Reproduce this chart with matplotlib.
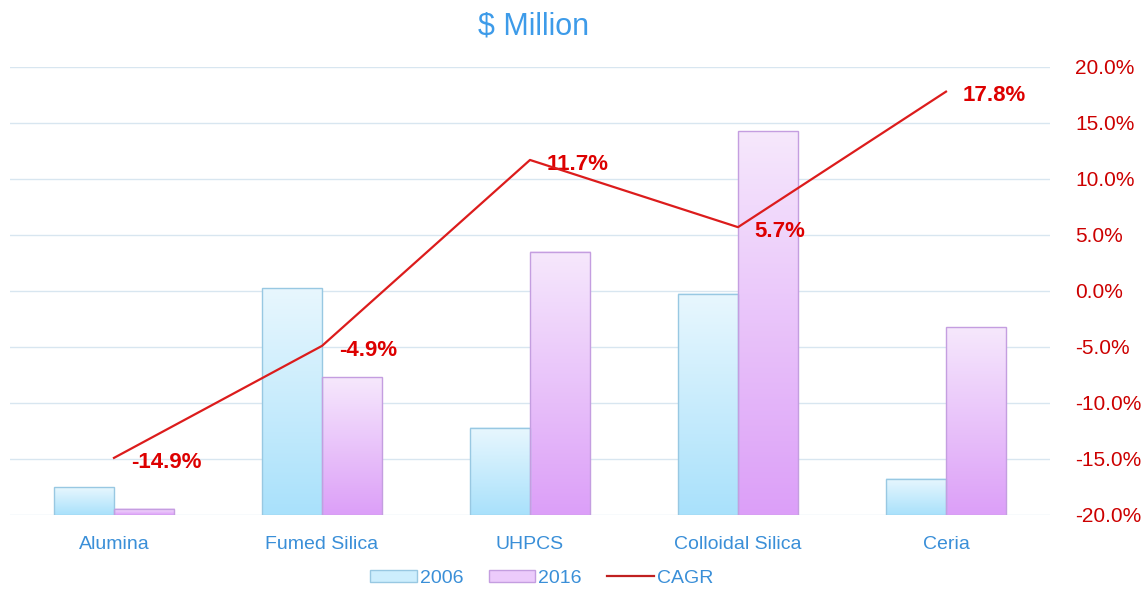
import numpy as np
import matplotlib.pyplot as plt
from matplotlib.colors import LinearSegmentedColormap
from matplotlib.patches import Patch
from matplotlib.lines import Line2D
from matplotlib.ticker import FuncFormatter

plt.rcParams['font.family'] = ['Liberation Sans', 'DejaVu Sans']

categories = ['Alumina', 'Fumed Silica', 'UHPCS', 'Colloidal Silica', 'Ceria']
sales_2006 = [50, 405, 156, 395, 65]
sales_2016 = [11, 246, 470, 685, 335]
cagr = [-14.9, -4.9, 11.7, 5.7, 17.8]
cagr_ticks = [-20, -15, -10, -5, 0, 5, 10, 15, 20]

fig = plt.figure(figsize=(11.43, 5.9), dpi=100)
ax = fig.add_axes([10 / 1143, 75 / 590, 1040 / 1143, 448 / 590])

# gradient colour maps (top light -> bottom darker)
cm06 = LinearSegmentedColormap.from_list('c06', ['#a9e1fb', '#e8f7fe'])
cm16 = LinearSegmentedColormap.from_list('c16', ['#dc9ff8', '#f6e8fc'])
grad = np.linspace(0, 1, 256).reshape(-1, 1)

x = np.arange(len(categories))
w = 0.29
for xs, vals, cm, ec in [(x - w / 2, sales_2006, cm06, '#98c8e2'),
                         (x + w / 2, sales_2016, cm16, '#c49ee0')]:
    bars = ax.bar(xs, vals, width=w, facecolor='none', edgecolor=ec, linewidth=1, zorder=3)
    for b in bars:
        x0, y0 = b.get_x(), b.get_y()
        ax.imshow(grad, extent=[x0, x0 + b.get_width(), y0, y0 + b.get_height()],
                  origin='lower', aspect='auto', cmap=cm, zorder=2)

ax.set_xlim(-0.5, len(categories) - 0.5)
ax.set_ylim(0, 800)
ax.set_yticks(np.arange(0, 801, 100))
ax.yaxis.grid(True, color='#d8e6f0', linewidth=1)
ax.set_axisbelow(True)
ax.set_xticks(x)
ax.set_xticklabels(categories, fontsize=14, color='#3a8fd8')
ax.tick_params(axis='x', length=0, pad=15)
for s in ax.spines.values():
    s.set_visible(False)

ax2 = ax.twinx()
ax.tick_params(axis='y', left=False, right=False, labelleft=False, labelright=False)
ax2.plot(x, cagr, color='#dc1c1c', linewidth=1.6, zorder=5)
ax2.set_ylim(-20, 20)
ax2.set_yticks(cagr_ticks)
ax2.yaxis.set_major_formatter(FuncFormatter(lambda v, p: f'{v:.1f}%'))
ax2.tick_params(axis='y', length=0, pad=18, labelsize=15, labelcolor='#cc0000')
for s in ax2.spines.values():
    s.set_visible(False)
for xi, v in zip(x, cagr):
    ax2.annotate(f'{v}%', (xi, v), xytext=(12, -3), textcoords='offset points',
                 ha='left', va='center', fontsize=16, fontweight='bold', color='#dd0000')

fig.text(0.467, 0.955, '$ Million', ha='center', va='center', fontsize=22, color='#3d9be9')

handles = [Patch(facecolor='#cdeefd', edgecolor='#98c8e2'),
           Patch(facecolor='#eccbfb', edgecolor='#c49ee0'),
           Line2D([0], [0], color='#c02020', linewidth=1.6)]
leg = fig.legend(handles, ['2006', '2016', 'CAGR'], loc='center', bbox_to_anchor=(0.474, 0.02),
                 ncol=3, frameon=False, fontsize=14, handlelength=2.4, handleheight=0.6,
                 handletextpad=0.15, columnspacing=1.3)
for t in leg.get_texts():
    t.set_color('#3a8fd8')

fig.savefig('out.png', dpi=100)
